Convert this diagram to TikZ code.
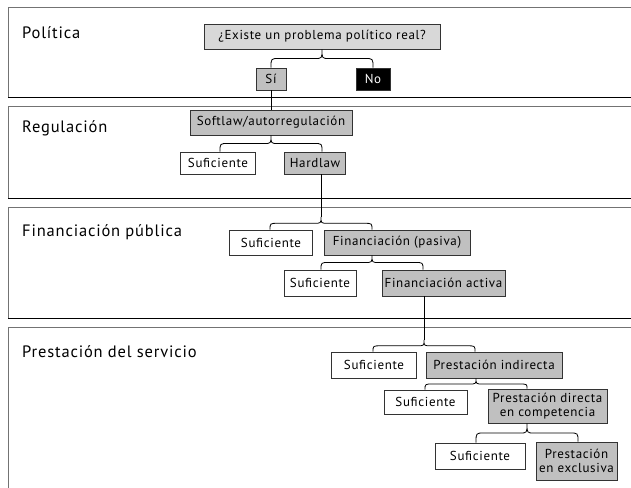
\documentclass[tikz,border=0pt]{standalone}
\usepackage{fontspec}
\setmainfont[LetterSpace=5]{PT Sans}
\usepackage{xcolor}
\usetikzlibrary{calc}
\definecolor{boxgray}{HTML}{C0C0C0}
\definecolor{askgray}{HTML}{D8D8D8}
\tikzset{
    base-box/.style = {draw=black!80, line width=0.8pt, inner sep=0pt, align=center, font=\fontsize{13}{14}\selectfont},
    white-box/.style = {base-box, fill=white},
    gray-box/.style = {base-box, fill=boxgray},
    black-box/.style = {base-box, fill=black, text=white},
    ask-box/.style = {base-box, fill=askgray},
    section-label/.style = {anchor=west, inner sep=0pt, font=\fontsize{16.5}{18}\selectfont},
    fork-line/.style = {draw=black, line width=0.8pt},
}
% curly fork: #1 tip, #2 left child, #3 right child
\newcommand{\fork}[3]{%
    \draw[fork-line] let \p1=(#1), \p2=(#2.north), \p3=(#3.north),
        \p4=($(#1)!.5!(#2.north)$) in
        (\x1-51pt,\y2) .. controls (\x1-51pt,\y4) .. (\x1-43pt,\y4)
        -- (\x1-7pt,\y4) .. controls (\x1,\y4) .. (\x1,\y1)
        .. controls (\x1,\y4) .. (\x1+7pt,\y4)
        -- (\x1+43pt,\y4) .. controls (\x1+51pt,\y4) .. (\x1+51pt,\y3);
}

\begin{document}
\begin{tikzpicture}[x=1pt, y=-1pt]
\useasboundingbox (0,0) rectangle (631,487);
\clip (0,0) rectangle (631,487);

% panels
\foreach \top/\bot in {8/97, 106/198, 207/318, 327/520} {
    \draw[black!55, line width=1pt] (650,\top) -- (8,\top) -- (8,\bot);
    \draw[black, line width=1pt] (8,\bot) -- (650,\bot);
}

\node[section-label] (pol) at (22,33) {Política};
\node[section-label] (reg) at (22,128) {Regulación};
\node[section-label] (fin) at (22,232) {Financiación pública};
\node[section-label] (pre) at (22,352) {Prestación del servicio};

% politica
\node[ask-box, minimum width=236pt, minimum height=25pt] (ask) at (322,36.5) {¿Existe un problema político real?};
\node[gray-box, minimum width=30pt, minimum height=22pt] (si) at (271,79) {Sí};
\node[black-box, minimum width=34pt, minimum height=22pt] (no) at (373,79) {No};
\fork{ask.south}{si}{no}

% regulacion
\node[gray-box, minimum width=162pt, minimum height=25pt] (soft) at (271,122.5) {Softlaw/autorregulación};
\node[white-box, minimum width=75pt, minimum height=22pt] (suf-reg) at (218,163) {Suficiente};
\node[gray-box, minimum width=61pt, minimum height=22pt] (hard) at (315,163) {Hardlaw};
\draw[fork-line] (si) -- (soft);
\fork{soft.south}{suf-reg}{hard}

% financiacion
\coordinate (tip-fin) at (321,217);
\node[white-box, minimum width=83pt, minimum height=25pt] (suf-pas) at (271,242.5) {Suficiente};
\node[gray-box, minimum width=146pt, minimum height=25pt] (pas) at (397,242.5) {Financiación (pasiva)};
\node[white-box, minimum width=72pt, minimum height=26pt] (suf-act) at (320,283) {Suficiente};
\node[gray-box, minimum width=123pt, minimum height=26pt] (act) at (443.5,283) {Financiación activa};
\draw[fork-line] (hard.south -| tip-fin) -- (tip-fin);
\fork{tip-fin}{suf-pas}{pas}
\fork{[xshift=-25pt]pas.south}{suf-act}{act}

% prestacion
\coordinate (tip-pre) at (424,340);
\node[white-box, minimum width=85pt, minimum height=26pt] (suf-ind) at (374,365) {Suficiente};
\node[gray-box, minimum width=136pt, minimum height=26pt] (ind) at (494,365) {Prestación indirecta};
\node[white-box, minimum width=83pt, minimum height=24pt] (suf-dir) at (425.5,402) {Suficiente};
\node[gray-box, minimum width=119pt, minimum height=34pt] (dir) at (547.5,406) {Prestación directa\\en competencia};
\node[white-box, minimum width=90pt, minimum height=26pt] (suf-exc) at (480,456) {Suficiente};
\node[gray-box, minimum width=81pt, minimum height=38pt] (exc) at (576.5,461) {Prestación\\en exclusiva};
\draw[fork-line] (act.south -| tip-pre) -- (tip-pre);
\fork{tip-pre}{suf-ind}{ind}
\fork{[xshift=-18pt]ind.south}{suf-dir}{dir}
\fork{[xshift=-20.5pt]dir.south}{suf-exc}{exc}
\end{tikzpicture}
\end{document}
